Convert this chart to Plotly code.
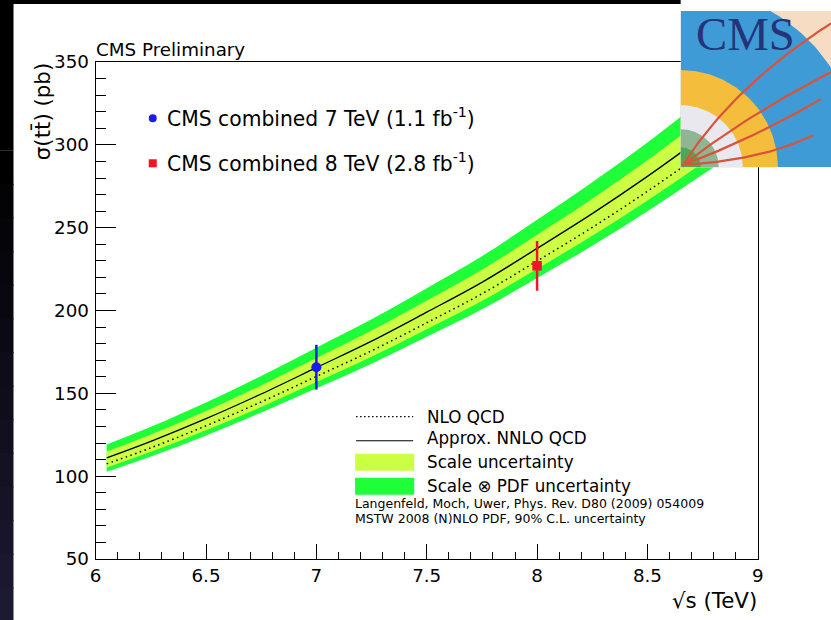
import math
import plotly.graph_objects as go

# The photographed page shows the figure slightly scaled and offset; positions below are
# given in picture pixels of the target and converted to figure pixels.
AX, BX = 0.984, 6.5
AY, BY = 0.965, 11.0
FW = int(round((831 - BX) / AX))
FH = int(round((620 - BY) / AY))
FONT = "DejaVu Sans"

# ---------------- data ----------------
sqrt_s = [6.05, 6.25, 6.5, 6.75, 7.0, 7.25, 7.5, 7.75, 8.0, 8.25, 8.5, 8.75, 9.0]
nnlo = [111.0, 121.0, 134.7, 149.6, 165.5, 181.5, 199.0, 217.0, 237.5, 258.5, 281.0, 305.0, 330.0]
nlo = [107.4, 117.1, 130.4, 144.8, 160.2, 175.7, 192.6, 210.1, 229.9, 250.2, 272.0, 295.2, 319.4]
scale_up = [114.9, 125.2, 139.4, 154.8, 171.3, 187.9, 206.0, 224.6, 245.8, 267.5, 290.8, 315.7, 341.6]
scale_dn = [105.2, 114.7, 127.7, 141.8, 156.9, 172.1, 188.7, 205.7, 225.2, 245.1, 266.4, 289.1, 312.8]
total_up = [119.1, 129.8, 144.5, 160.5, 177.6, 194.7, 213.5, 232.8, 254.8, 277.4, 301.5, 327.3, 354.1]
total_dn = [102.7, 111.9, 124.6, 138.4, 153.1, 167.9, 184.1, 200.7, 219.7, 239.1, 259.9, 282.1, 305.3]

meas_energy = [7.0, 8.0]
meas_xsec = [165.8, 227.0]
meas_err = [13.5, 15.0]
meas_labels = ["CMS combined 7 TeV (1.1 fb<sup>-1</sup>)", "CMS combined 8 TeV (2.8 fb<sup>-1</sup>)"]

x_tickvals = [6, 6.5, 7, 7.5, 8, 8.5, 9]
x_ticktext = ["6", "6.5", "7", "7.5", "8", "8.5", "9"]
y_tickvals = [50, 100, 150, 200, 250, 300, 350]
y_ticktext = ["50", "100", "150", "200", "250", "300", "350"]

theory_labels = ["NLO QCD", "Approx. NNLO QCD", "Scale uncertainty", "Scale \u2297 PDF uncertainty"]
citation = ["Langenfeld, Moch, Uwer, Phys. Rev. D80 (2009) 054009",
            "MSTW 2008 (N)NLO PDF, 90% C.L. uncertainty"]

GREEN = "#1eff3a"
YELLOW = "#ccff44"
BLUE = "#1a1aee"
RED = "#f01428"


def px(x):
    return ((x - BX) / AX) / FW


def py(y):
    return 1 - ((y - BY) / AY) / FH


def fs(size):
    return size / AX


fig = go.Figure()

# ---------------- theory bands and lines ----------------
fig.add_trace(go.Scatter(x=sqrt_s, y=total_dn, mode="lines", line=dict(width=0, shape="spline"),
                         hoverinfo="skip", showlegend=False))
fig.add_trace(go.Scatter(x=sqrt_s, y=total_up, mode="lines", line=dict(width=0, shape="spline"),
                         fill="tonexty", fillcolor=GREEN, showlegend=False))
fig.add_trace(go.Scatter(x=sqrt_s, y=scale_dn, mode="lines", line=dict(width=0, shape="spline"),
                         hoverinfo="skip", showlegend=False))
fig.add_trace(go.Scatter(x=sqrt_s, y=scale_up, mode="lines", line=dict(width=0, shape="spline"),
                         fill="tonexty", fillcolor=YELLOW, showlegend=False))
fig.add_trace(go.Scatter(x=sqrt_s, y=nlo, mode="lines",
                         line=dict(color="black", width=1.5, dash="1.5px,3.5px", shape="spline"),
                         showlegend=False))
fig.add_trace(go.Scatter(x=sqrt_s, y=nnlo, mode="lines",
                         line=dict(color="black", width=1.3, shape="spline"), showlegend=False))

# ---------------- measurements ----------------
styles = [dict(color=BLUE, symbol="circle", size=10), dict(color=RED, symbol="square", size=9.5)]
for i in range(len(meas_energy)):
    fig.add_trace(go.Scatter(
        x=[meas_energy[i]], y=[meas_xsec[i]], mode="markers",
        marker=dict(color=styles[i]["color"], symbol=styles[i]["symbol"], size=styles[i]["size"],
                    line=dict(width=0)),
        error_y=dict(type="data", array=[meas_err[i]], color=styles[i]["color"], thickness=2.5, width=0),
        showlegend=False))

# ---------------- CMS logo (decoration, own subplot so it is clipped) ----------------
LOGO_X0, LOGO_Y1 = 680, 167
LW = 831 - LOGO_X0
LH = LOGO_Y1 - BY
fig.add_trace(go.Scatter(x=[0, LW, LW, 0, 0], y=[0, 0, LH, LH, 0], mode="lines", fill="toself",
                         fillcolor="#f6dcc2", line=dict(width=0), xaxis="x2", yaxis="y2",
                         hoverinfo="skip", showlegend=False))
rings = [(180, "#3e9bd5"), (97, "#f4bd3c"), (62, "#e8e8ee"), (38, "#8fb592"), (20, "#4ea85a")]
for r, col in rings:
    n = 60
    xs = [0] + [r * math.cos(math.pi / 2 * k / n) for k in range(n + 1)] + [0]
    ys = [0] + [r * math.sin(math.pi / 2 * k / n) for k in range(n + 1)] + [0]
    fig.add_trace(go.Scatter(x=xs, y=ys, mode="lines", fill="toself", fillcolor=col,
                             line=dict(width=0), xaxis="x2", yaxis="y2",
                             hoverinfo="skip", showlegend=False))
tracks = [((2, 2), (55, 85), (160, 150)), ((2, 2), (70, 55), (160, 100)),
          ((2, 2), (75, 30), (140, 68)), ((2, 2), (85, 8), (132, 32))]
for p0, p1, p2 in tracks:
    n = 40
    xs, ys = [], []
    for k in range(n + 1):
        t = k / n
        xs.append((1 - t) ** 2 * p0[0] + 2 * (1 - t) * t * p1[0] + t ** 2 * p2[0])
        ys.append((1 - t) ** 2 * p0[1] + 2 * (1 - t) * t * p1[1] + t ** 2 * p2[1])
    fig.add_trace(go.Scatter(x=xs, y=ys, mode="lines", line=dict(color="#d9533a", width=2.2),
                             xaxis="x2", yaxis="y2", hoverinfo="skip", showlegend=False))

# ---------------- layout ----------------
axis_font = dict(family=FONT, size=fs(18), color="black")
fig.update_layout(
    width=FW, height=FH, margin=dict(l=0, r=0, t=0, b=0), autosize=False,
    paper_bgcolor="white", plot_bgcolor="white", showlegend=False,
    xaxis=dict(domain=[px(96), px(757)], range=[6, 9], tickvals=x_tickvals, ticktext=x_ticktext,
               ticks="inside", ticklen=14 / AY, tickwidth=1, tickcolor="black",
               showline=True, linecolor="black", linewidth=1, mirror=True,
               showgrid=False, zeroline=False, tickfont=axis_font, ticklabelstandoff=0,
               minor=dict(dtick=0.1, tick0=6, ticks="inside", ticklen=7 / AY, tickcolor="black",
                          tickwidth=1, showgrid=False),
               anchor="y"),
    yaxis=dict(domain=[py(558), py(62)], range=[50, 350], tickvals=y_tickvals, ticktext=y_ticktext,
               ticks="inside", ticklen=20 / AX, tickwidth=1, tickcolor="black",
               showline=True, linecolor="black", linewidth=1, mirror=True,
               showgrid=False, zeroline=False, tickfont=axis_font, ticklabelstandoff=2,
               minor=dict(dtick=10, tick0=50, ticks="inside", ticklen=10 / AX, tickcolor="black",
                          tickwidth=1, showgrid=False),
               anchor="x"),
    xaxis2=dict(domain=[px(LOGO_X0), 1.0], range=[0, LW], visible=False, fixedrange=True, anchor="y2"),
    yaxis2=dict(domain=[py(LOGO_Y1), 1.0], range=[0, LH], visible=False, fixedrange=True, anchor="x2"),
)

shapes = []
# dark slide edge on the left (gradient from black to dark navy)
N = 14
for k in range(N):
    y0 = 150 + (620 - 150) * k / N
    y1 = 150 + (620 - 150) * (k + 1) / N
    f = (k + 0.5) / N
    col = "rgb(%d,%d,%d)" % (int(30 * f), int(26 * f), int(52 * f))
    shapes.append(dict(type="rect", xref="paper", yref="paper", x0=px(-10), x1=px(14),
                       y0=py(y1 + 1), y1=py(y0), fillcolor=col, line=dict(width=0), layer="above"))
shapes.append(dict(type="rect", xref="paper", yref="paper", x0=px(-10), x1=px(14), y0=py(150), y1=py(-10),
                   fillcolor="black", line=dict(width=0), layer="above"))
shapes.append(dict(type="rect", xref="paper", yref="paper", x0=px(-10), x1=px(680), y0=py(4), y1=py(-20),
                   fillcolor="black", line=dict(width=0), layer="above"))

# legend keys
shapes.append(dict(type="circle", xref="paper", yref="paper", x0=px(149), x1=px(157), y0=py(122), y1=py(114),
                   fillcolor=BLUE, line=dict(width=0)))
shapes.append(dict(type="rect", xref="paper", yref="paper", x0=px(149), x1=px(157), y0=py(167), y1=py(159),
                   fillcolor=RED, line=dict(width=0)))
shapes.append(dict(type="line", xref="paper", yref="paper", x0=px(356), x1=px(413), y0=py(416), y1=py(416),
                   line=dict(color="black", width=1.2, dash="1.5px,2.5px")))
shapes.append(dict(type="line", xref="paper", yref="paper", x0=px(356), x1=px(413), y0=py(440), y1=py(440),
                   line=dict(color="black", width=1.2)))
shapes.append(dict(type="rect", xref="paper", yref="paper", x0=px(355), x1=px(414), y0=py(470), y1=py(453),
                   fillcolor=YELLOW, line=dict(width=0)))
shapes.append(dict(type="rect", xref="paper", yref="paper", x0=px(355), x1=px(414), y0=py(494), y1=py(477),
                   fillcolor=GREEN, line=dict(width=0)))
fig.update_layout(shapes=shapes)

ann = []


def text(s, x, y, size, xanchor="left", yanchor="middle", angle=0, family=FONT, color="black"):
    ann.append(dict(text=s, xref="paper", yref="paper", x=px(x), y=py(y), xanchor=xanchor, yanchor=yanchor,
                    showarrow=False, textangle=angle, font=dict(family=family, size=fs(size), color=color),
                    borderpad=0))


text("CMS Preliminary", 95, 49, 18)
text(meas_labels[0], 166, 117, 20)
text(meas_labels[1], 166, 162, 20)
text(theory_labels[0], 426, 416, 16.5)
text(theory_labels[1], 426, 437, 16.5)
text(theory_labels[2], 426, 461, 16.5)
text(theory_labels[3], 426, 485, 16.5)
text(citation[0], 354, 503, 12.3)
text(citation[1], 354, 518, 12.3)
text("\u03c3(tt\u0304) (pb)", 43, 62, 21, xanchor="center", yanchor="top", angle=-90)
text("\u221as (TeV)", 757, 599, 21, xanchor="right")
text("CMS", 745, 34, 46, xanchor="center", family="Liberation Serif", color="#26337a")
fig.update_layout(annotations=ann)

fig.write_html("out.html")
